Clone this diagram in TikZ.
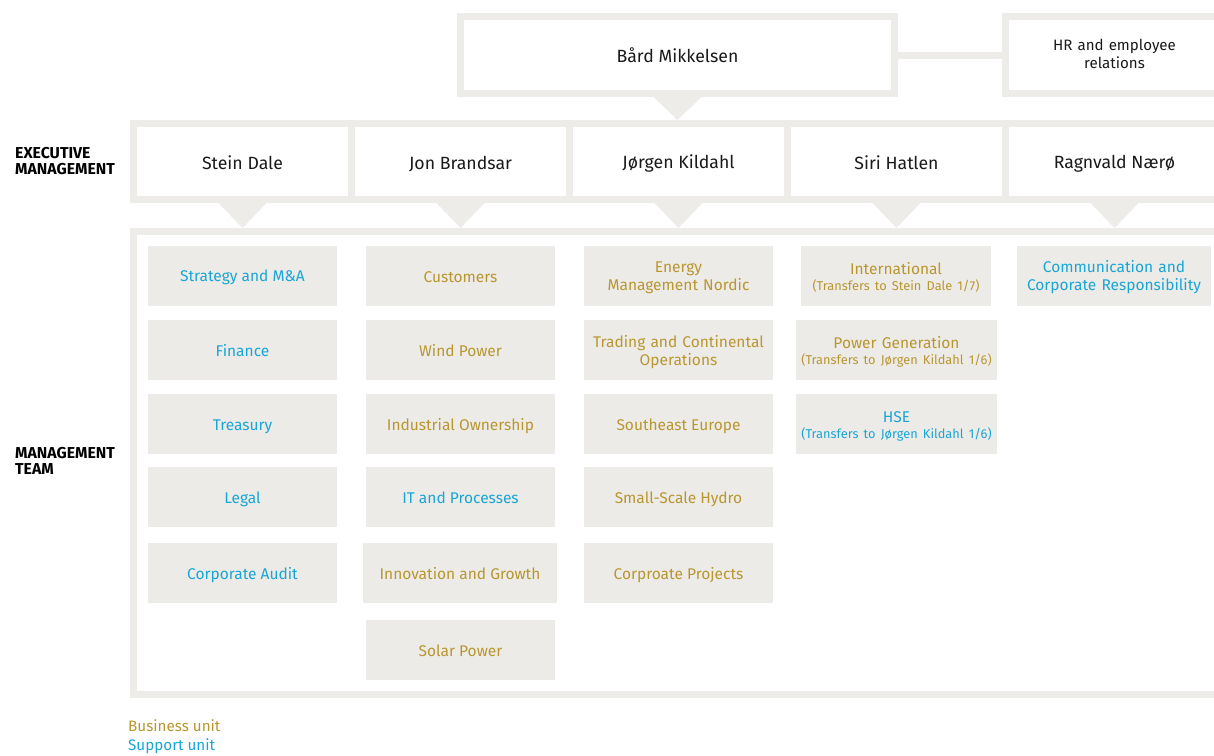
\documentclass[tikz,border=0pt]{standalone}
\usepackage{fontspec}
\setmainfont{Fira Sans}
\usetikzlibrary{calc}

\definecolor{framegray}{RGB}{237,236,232}
\definecolor{unitgray}{RGB}{237,235,231}
\definecolor{bizgold}{RGB}{184,150,48}
\definecolor{supblue}{RGB}{24,166,214}
\definecolor{nametext}{RGB}{26,26,26}

\tikzset{
  frame/.style={draw=framegray, line width=7pt, fill=white},
  struts/.style 2 args={execute at begin node={\rule[-#2]{0pt}{#1}},
    execute at end node={\rule[-#2]{0pt}{#2}}},
  person/.style={frame, struts={21pt}{3pt}, minimum width=218pt, minimum height=76pt,
    text=nametext, font=\fontsize{17.7}{20}\selectfont},
  unit/.style={struts={19pt}{3pt}, fill=unitgray, minimum width=189pt, minimum height=60pt,
    inner sep=0pt, align=center, font=\fontsize{15.5}{18}\selectfont},
  twoline/.style={text width=#1},
  twoline/.default=189pt,
  biz/.style={unit, text=bizgold},
  sup/.style={unit, text=supblue},
  pointer/.style={fill=framegray},
  rowlabel/.style={anchor=north west, align=left, inner sep=0pt,
    font=\fontsize{15.8}{16}\selectfont\bfseries},
  legend/.style={anchor=west, inner sep=0pt, font=\fontsize{15.2}{17}\selectfont}
}
\newcommand{\transfer}[1]{\\[-2pt]{\fontsize{12.8}{14}\selectfont (#1)}}

\begin{document}
\begin{tikzpicture}[x=1pt,y=-1pt]
\clip (0,0) rectangle (1214,755);

% frames
\node[frame, minimum width=1089pt, minimum height=463pt] (team) at (678,463) {};
\node[frame, minimum width=1089pt, minimum height=76pt] (band) at (678,161.5) {};
\foreach \n/\x/\who in {e1/242.5/Stein Dale, e2/460.5/Jon Brandsar, e3/678.5/Jørgen Kildahl,
    e4/896.5/Siri Hatlen, e5/1114.5/Ragnvald Nærø}
  \node[person] (\n) at (\x,161.5) {\who};

% top
\node[person, minimum width=434pt, minimum height=77pt] (boss) at (677.5,55) {Bård Mikkelsen};
\node[frame, struts={14.5pt}{3pt}, minimum width=218pt, minimum height=77pt, text width=218pt,
  inner sep=0pt, align=center, text=nametext, font=\fontsize{15.1}{17.5}\selectfont]
  (hr) at (1114.5,55) {HR and employee\\relations};
\draw[framegray, line width=7pt] (boss.east) -- (hr.west);

% pointers
\fill[pointer] ($(boss.south)+(-24,0)$) -- ($(boss.south)+(24,0)$) -- (boss.south |- e3.north) -- cycle;
\foreach \n in {e1,e2,e3,e4,e5}
  \fill[pointer] ($(\n.south)+(-24,0)$) -- ($(\n.south)+(24,0)$) -- (\n.south |- team.north) -- cycle;

% management team, column by column
\node[sup] (strategy) at (242.5,275.5) {Strategy and M\&A};
\node[sup] (finance) at (242.5,350) {Finance};
\node[sup] (treasury) at (242.5,424) {Treasury};
\node[sup] (legal) at (242.5,497) {Legal};
\node[sup] (audit) at (242.5,573) {Corporate Audit};

\node[biz] (customers) at (460.5,275.5) {Customers};
\node[biz] (wind) at (460.5,350) {Wind Power};
\node[biz] (ownership) at (460.5,424) {Industrial Ownership};
\node[sup] (it) at (460.5,497) {IT and Processes};
\node[biz, minimum width=194pt] (innovation) at (460,573) {Innovation and Growth};
\node[biz] (solar) at (460.5,650) {Solar Power};

\node[biz, twoline] (nordic) at (678.5,275.5) {Energy\\Management Nordic};
\node[biz, twoline] (trading) at (678.5,350) {Trading and Continental\\Operations};
\node[biz] (southeast) at (678.5,424) {Southeast Europe};
\node[biz] (hydro) at (678.5,497) {Small-Scale Hydro};
\node[biz] (projects) at (678.5,573) {Corproate Projects};

\node[biz, twoline=190pt, minimum width=190pt] (international) at (896,275.5)
  {International\transfer{Transfers to Stein Dale 1/7}};
\node[biz, twoline=201pt, minimum width=201pt] (generation) at (896.5,350)
  {Power Generation\transfer{Transfers to Jørgen Kildahl 1/6}};
\node[sup, twoline=201pt, minimum width=201pt] (hse) at (896.5,424)
  {HSE\transfer{Transfers to Jørgen Kildahl 1/6}};

\node[sup, twoline=194pt, minimum width=194pt] (communication) at (1114,275.5)
  {Communication and\\Corporate Responsibility};

% side labels and legend
\node[rowlabel] (execlabel) at (15,147) {EXECUTIVE\\MANAGEMENT};
\node[rowlabel] (teamlabel) at (15,447) {MANAGEMENT\\TEAM};
\node[legend, text=bizgold] (bizkey) at (128,726) {Business unit};
\node[legend, text=supblue] (supkey) at (128,746) {Support unit};
\end{tikzpicture}
\end{document}
